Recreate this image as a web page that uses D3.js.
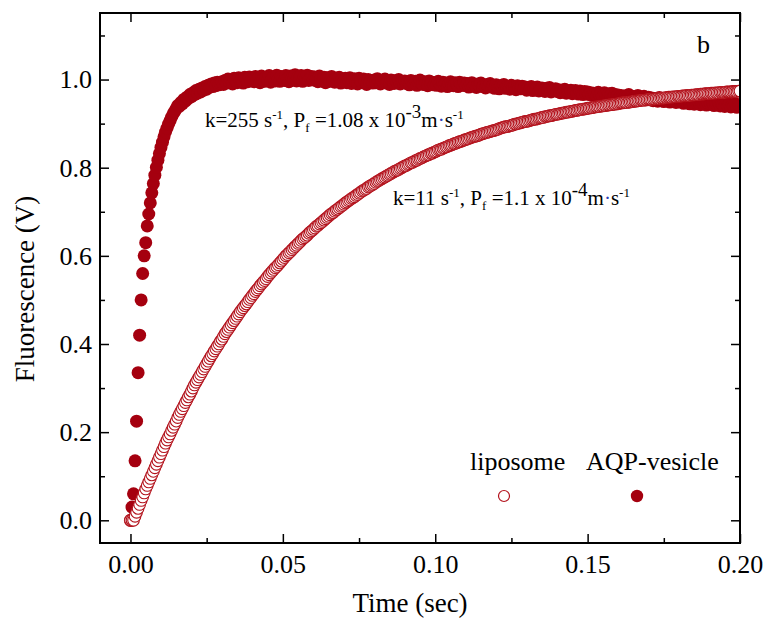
<!DOCTYPE html>
<html>
<head>
<meta charset="utf-8">
<script src="https://cdn.jsdelivr.net/npm/d3@7"></script>
<style>
  body { margin: 0; background: #fff; }
  text { font-family: "Liberation Serif", "Times New Roman", serif; fill: #000; }
</style>
</head>
<body>
<svg id="chart" width="768" height="630"></svg>
<script>
// sample spacing of the stopped-flow trace (sec)
const timeStep = 0.0005

// liposome trace (open circles), one value per sample
const lipoFluor = [0,0,
  .000,.009,.018,.027,.036,.045,.053,.062,.071,.079,
  .087,.095,.103,.111,.119,.127,.135,.143,.151,.159,
  .167,.175,.182,.189,.196,.204,.211,.218,.225,.233,
  .240,.247,.253,.260,.267,.273,.280,.286,.293,.300,
  .307,.313,.319,.325,.331,.337,.343,.349,.355,.361,
  .367,.373,.378,.384,.389,.395,.400,.406,.411,.417,
  .423,.428,.433,.438,.443,.448,.453,.458,.463,.468,
  .473,.478,.482,.487,.491,.496,.501,.505,.510,.514,
  .519,.523,.527,.532,.536,.540,.544,.548,.553,.557,
  .561,.565,.569,.573,.576,.580,.584,.588,.592,.596,
  .600,.603,.607,.610,.614,.617,.621,.624,.628,.631,
  .635,.638,.641,.644,.647,.651,.654,.657,.660,.663,
  .667,.669,.672,.675,.678,.681,.684,.687,.690,.693,
  .696,.698,.701,.704,.706,.709,.712,.714,.717,.720,
  .722,.725,.727,.730,.732,.734,.737,.739,.742,.744,
  .747,.749,.751,.753,.756,.758,.760,.762,.764,.767,
  .769,.771,.773,.775,.777,.779,.781,.783,.785,.787,
  .789,.791,.793,.794,.796,.798,.800,.802,.804,.805,
  .807,.809,.811,.812,.814,.816,.817,.819,.821,.822,
  .824,.826,.827,.829,.830,.832,.833,.835,.836,.838,
  .840,.841,.842,.844,.845,.847,.848,.850,.851,.852,
  .854,.855,.856,.858,.859,.860,.861,.863,.864,.865,
  .866,.868,.869,.870,.871,.872,.873,.874,.876,.877,
  .878,.879,.880,.881,.882,.883,.884,.885,.886,.887,
  .889,.890,.891,.892,.893,.893,.894,.895,.896,.897,
  .899,.899,.900,.901,.902,.903,.904,.905,.905,.906,
  .907,.908,.909,.910,.910,.911,.912,.913,.914,.914,
  .916,.916,.917,.918,.918,.919,.920,.921,.921,.922,
  .923,.924,.924,.925,.926,.926,.927,.928,.928,.929,
  .930,.930,.931,.932,.932,.933,.933,.934,.935,.935,
  .936,.936,.937,.938,.938,.939,.939,.940,.940,.941,
  .941,.942,.942,.943,.943,.944,.944,.945,.945,.946,
  .947,.947,.948,.948,.948,.949,.949,.950,.950,.951,
  .951,.952,.952,.953,.953,.953,.954,.954,.955,.955,
  .955,.956,.956,.957,.957,.957,.958,.958,.958,.959,
  .959,.960,.960,.960,.961,.961,.961,.962,.962,.962,
  .963,.963,.963,.964,.964,.964,.965,.965,.965,.966,
  .966,.966,.967,.967,.967,.968,.968,.968,.968,.969,
  .969,.969,.970,.970,.970,.971,.971,.971,.971,.972,
  .972,.972,.972,.973,.973,.973,.973,.974,.974]

// AQP-vesicle trace (filled circles)
const aqpFluor = [
  0,.030,.060,.135,.225,.335,.420,.500,.560,.600,.630,.668,.695,.720,
  .743,.764,.783,.801,.817,.832,.846,.858,.870,.881,.890,.899,.907,.915,.922,.928,
  .934,.941,.939,.948,.945,.955,.951,.960,.957,.966,
  .961,.970,.966,.975,.969,.978,.972,.981,.976,.984,
  .978,.987,.983,.990,.984,.992,.986,.994,.988,.991,
  .995,.989,.998,.992,1.001,.994,.999,.990,1.003,.996,.993,1.004,.997,1.000,.992,1.005,.998,.995,1.006,.999,
  1.002,.995,1.007,.998,1.004,.993,1.008,1.000,.996,1.005,.999,1.009,.994,1.003,1.006,.997,1.010,1.001,.996,1.007,
  1.003,.998,1.009,1.001,.995,1.008,1.004,.999,1.011,.997,1.005,1.002,1.009,.996,1.006,1.000,1.010,.998,1.004,1.007,
  .999,1.006,1.002,.995,1.008,1.001,.997,1.005,.993,1.004,1.000,.996,1.007,.998,.994,1.003,.999,1.005,.992,1.001,
  .996,1.003,.993,.999,1.004,.991,.998,1.002,.995,.990,1.003,.997,.993,1.001,.996,.989,1.000,.994,.998,.992,
  .999,.993,1.002,.995,.990,.998,.994,1.001,.992,.996,.989,.999,.995,.991,.998,.993,1.000,.990,.996,.994,
  .997,.991,.995,.988,.998,.993,.990,.996,.987,.994,.999,.991,.989,.995,.992,.986,.997,.990,.994,.988,
  .993,.987,.996,.990,.985,.994,.989,.992,.984,.991,.995,.988,.986,.993,.990,.984,.994,.989,.987,.992,
  .986,.991,.983,.989,.993,.985,.988,.982,.990,.986,.992,.984,.987,.981,.989,.985,.991,.983,.986,.980,
  .988,.983,.979,.986,.982,.989,.980,.985,.983,.978,.987,.981,.984,.977,.986,.982,.979,.985,.980,.983,
  .976,.982,.978,.984,.975,.980,.977,.983,.974,.979,.981,.976,.973,.980,.977,.982,.972,.978,.975,.979,
  .973,.977,.970,.976,.972,.978,.969,.974,.971,.976,.968,.973,.975,.970,.967,.974,.971,.966,.973,.969,
  .972,.966,.970,.964,.969,.967,.963,.971,.965,.968,.962,.970,.966,.961,.968,.964,.969,.960,.966,.963,
  .965,.959,.964,.961,.957,.963,.960,.966,.958,.962,.956,.961,.959,.964,.955,.960,.957,.962,.954,.958,
  .960,.954,.958,.952,.957,.955,.951,.959,.953,.956,.950,.955,.952,.957,.949,.954,.951,.956,.948,.953,
  .955,.949,.952,.946,.951,.948,.953,.945,.950,.947,.944,.951,.946,.949,.943,.948,.945,.950,.942,.947,
  .949,.944,.947,.941,.946,.943,.948,.940,.945,.942,.939,.946,.941,.944,.938,.943,.940,.945,.937,.942,.939]

const xMajorTicks = [0, 0.05, 0.10, 0.15, 0.20]
const xMinorTicks = [0.025, 0.075, 0.125, 0.175]
const yMajorTicks = [0, 0.2, 0.4, 0.6, 0.8, 1.0]
const yMinorTicks = [0.1, 0.3, 0.5, 0.7, 0.9, 1.1]

const seriesNames = ["liposome", "AQP-vesicle"]
const darkRed = "#a5000f"

let svg = d3.select("#chart")
let plotLeft = 100, plotRight = 740, plotTop = 13, plotBottom = 543

let x = d3.scaleLinear().domain([-0.01, 0.2]).range([plotLeft, plotRight])
let y = d3.scaleLinear().domain([-0.0515, 1.151]).range([plotBottom, plotTop])

let lipo = lipoFluor.map((v, i) => ({ t: i * timeStep, v: v }))
let aqp = aqpFluor.map((v, i) => ({ t: i * timeStep, v: v }))

svg.append("clipPath").attr("id", "plotclip")
  .append("rect")
  .attr("x", plotLeft).attr("y", plotTop)
  .attr("width", plotRight - plotLeft).attr("height", plotBottom - plotTop)

let plot = svg.append("g").attr("clip-path", "url(#plotclip)")

// filled AQP points go under the open liposome rings
plot.append("g")
  .selectAll("circle")
  .data(aqp)
  .join("circle")
  .attr("cx", d => x(d.t))
  .attr("cy", d => y(d.v))
  .attr("r", 6.5)
  .style("fill", darkRed)

plot.append("g")
  .selectAll("circle")
  .data(lipo)
  .join("circle")
  .attr("cx", d => x(d.t))
  .attr("cy", d => y(d.v))
  .attr("r", 5.8)
  .style("fill", "#fff")
  .style("stroke", "#b3121c")
  .style("stroke-width", 1.1)

// axes, ticks pointing inward
function styleAxis(g) {
  g.select(".domain").remove()
  g.selectAll("line").style("stroke", "#000").style("stroke-width", 1.5)
  g.selectAll("text").style("font-size", "26px").style("font-family", '"Liberation Serif", serif')
}

svg.append("g").attr("transform", `translate(0,${plotBottom})`)
  .call(d3.axisBottom(x).tickValues(xMajorTicks).tickFormat(d3.format(".2f")).tickSize(-9).tickPadding(12))
  .call(styleAxis)
svg.append("g").attr("transform", `translate(0,${plotBottom})`)
  .call(d3.axisBottom(x).tickValues(xMinorTicks).tickFormat("").tickSize(-5))
  .call(styleAxis)
svg.append("g").attr("transform", `translate(0,${plotTop})`)
  .call(d3.axisTop(x).tickValues(xMajorTicks).tickFormat("").tickSize(-9))
  .call(styleAxis)
svg.append("g").attr("transform", `translate(0,${plotTop})`)
  .call(d3.axisTop(x).tickValues(xMinorTicks).tickFormat("").tickSize(-5))
  .call(styleAxis)

svg.append("g").attr("transform", `translate(${plotLeft},0)`)
  .call(d3.axisLeft(y).tickValues(yMajorTicks).tickFormat(d3.format(".1f")).tickSize(-9).tickPadding(8))
  .call(styleAxis)
svg.append("g").attr("transform", `translate(${plotLeft},0)`)
  .call(d3.axisLeft(y).tickValues(yMinorTicks).tickFormat("").tickSize(-5))
  .call(styleAxis)
svg.append("g").attr("transform", `translate(${plotRight},0)`)
  .call(d3.axisRight(y).tickValues(yMajorTicks).tickFormat("").tickSize(-9))
  .call(styleAxis)
svg.append("g").attr("transform", `translate(${plotRight},0)`)
  .call(d3.axisRight(y).tickValues(yMinorTicks).tickFormat("").tickSize(-5))
  .call(styleAxis)

svg.append("rect")
  .attr("x", plotLeft).attr("y", plotTop)
  .attr("width", plotRight - plotLeft).attr("height", plotBottom - plotTop)
  .style("fill", "none").style("stroke", "#000").style("stroke-width", 2)

// axis titles
svg.append("text")
  .attr("x", 410).attr("y", 612)
  .attr("text-anchor", "middle")
  .style("font-size", "27px")
  .text("Time (sec)")

svg.append("text")
  .attr("transform", "translate(34,289) rotate(-90)")
  .attr("text-anchor", "middle")
  .style("font-size", "27px")
  .text("Fluorescence (V)")

svg.append("text")
  .attr("x", 697).attr("y", 53)
  .style("font-size", "26px")
  .text("b")

// rate constant annotations
function annotate(px, py, k, pf, exp) {
  let t = svg.append("text").attr("x", px).attr("y", py).style("font-size", "21px")
  t.append("tspan").text("k=" + k + " s")
  t.append("tspan").attr("dy", -8).style("font-size", "13px").text("-1")
  t.append("tspan").attr("dy", 8).text(", P")
  t.append("tspan").attr("dy", 5).style("font-size", "13px").text("f")
  t.append("tspan").attr("dy", -5).text(" =" + pf + " x 10")
  t.append("tspan").attr("dy", -9).style("font-size", "19px").text(exp)
  t.append("tspan").attr("dy", 9).text("m")
  t.append("tspan").style("fill", "#2b3fb8").text("\u00b7")
  t.append("tspan").text("s")
  t.append("tspan").attr("dy", -8).style("font-size", "13px").text("-1")
}
annotate(205, 127, "255", "1.08", "-3")
annotate(393, 205, "11", "1.1", "-4")

// legend
let legendX = [504, 637]
let legendTextX = [470, 586]
let legend = svg.append("g")
legend.selectAll("text")
  .data(seriesNames)
  .join("text")
  .attr("x", (d, i) => legendTextX[i])
  .attr("y", 470)
  .style("font-size", "26px")
  .text(d => d)
legend.append("circle")
  .attr("cx", legendX[0]).attr("cy", 496).attr("r", 5.5)
  .style("fill", "#fff").style("stroke", "#b3121c").style("stroke-width", 1.2)
legend.append("circle")
  .attr("cx", legendX[1]).attr("cy", 496).attr("r", 6.2)
  .style("fill", darkRed)
</script>
</body>
</html>
